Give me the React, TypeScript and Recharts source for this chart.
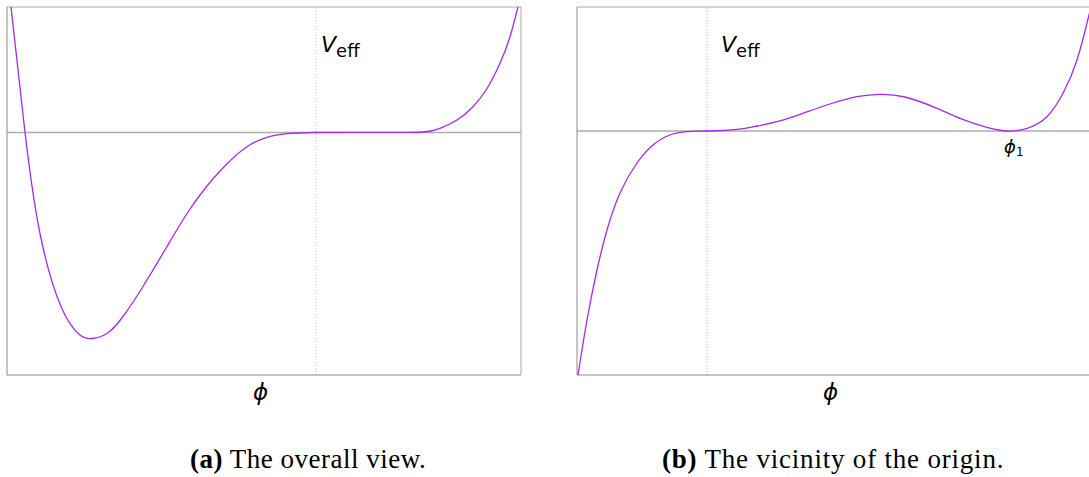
import { LineChart, Line, XAxis, YAxis, ReferenceLine } from "recharts";

// (a) overall view: field value and effective potential, origin at phi = 0
const phiA = [-3.05, -2.91, -2.76, -2.55, -2.36, -2.24, -2.09, -1.93, -1.73, -1.49, -1.29, -1.09, -0.89, -0.69, -0.49, -0.29, 0, 0.64, 1.07, 1.24, 1.41, 1.57, 1.71, 1.84, 1.94, 2.02];
const vA = [1.255, 0, -1.01, -1.74, -2.025, -2.06, -2.01, -1.84, -1.54, -1.14, -0.81, -0.535, -0.313, -0.142, -0.048, -0.012, 0, 0.001, 0.005, 0.042, 0.125, 0.258, 0.44, 0.692, 0.958, 1.258];

// (b) zoom near the origin, phi1 is the degenerate minimum
const phiB = [-1.29, -1.2, -1.1, -1.0, -0.87, -0.7, -0.54, -0.37, -0.2, 0, 0.3, 0.5, 0.7, 0.96, 1.23, 1.5, 1.73, 1.98, 2.3, 2.53, 2.8, 3.01, 3.2, 3.4, 3.56, 3.7, 3.82, 3.84];
const vB = [-2.44, -1.89, -1.39, -0.99, -0.62, -0.32, -0.14, -0.04, -0.007, 0, 0.017, 0.05, 0.093, 0.177, 0.27, 0.343, 0.367, 0.34, 0.227, 0.127, 0.037, 0, 0.027, 0.143, 0.377, 0.71, 1.16, 1.255];

const domainA = { x: [-3.09, 2.05], y: [-2.425, 1.255] };
const domainB = { x: [-1.3, 3.84], y: [-2.44, 1.24] };

const dataA = phiA.map((phi, i) => ({ phi, v: vA[i] }));
const dataB = phiB.map((phi, i) => ({ phi, v: vB[i] }));

const CURVE = "#a52ae8";
const FRAME = "#8c8c8c";
const MATH = "'DejaVu Sans', sans-serif";
const TEXT = "'Liberation Serif', 'DejaVu Serif', serif";

function Panel({ data, dom }: { data: { phi: number; v: number }[]; dom: { x: number[]; y: number[] } }) {
  const [x0, x1] = dom.x;
  const [y0, y1] = dom.y;
  return (
    <LineChart width={528} height={382} data={data} margin={{ top: 7, right: 7, bottom: 7, left: 7 }}>
      <XAxis dataKey="phi" type="number" domain={[x0, x1]} hide allowDataOverflow />
      <YAxis type="number" domain={[y0, y1]} hide allowDataOverflow />
      <ReferenceLine x={0} stroke="#bdbdbd" strokeDasharray="1 2" />
      <ReferenceLine y={0} stroke="#adadad" strokeWidth={1.5} />
      <ReferenceLine y={y1} stroke="#a8a8a8" />
      <ReferenceLine y={y0} stroke={FRAME} />
      <ReferenceLine x={x0} stroke={FRAME} />
      <ReferenceLine x={x1} stroke="#a8a8a8" />
      <Line type="natural" dataKey="v" stroke={CURVE} strokeWidth={1.3} dot={false} isAnimationActive={false} />
    </LineChart>
  );
}

function Veff({ left }: { left: number }) {
  return (
    <div style={{ position: "absolute", left, top: 34, fontFamily: MATH, fontSize: 22, color: "#000", lineHeight: 1 }}>
      <span style={{ fontStyle: "italic" }}>V</span>
      <span style={{ fontSize: 18, position: "relative", top: 5 }}>eff</span>
    </div>
  );
}

function Phi({ left }: { left: number }) {
  return (
    <div style={{ position: "absolute", left, top: 381, fontFamily: MATH, fontSize: 23, fontStyle: "italic", lineHeight: 1 }}>
      ϕ
    </div>
  );
}

export default function App() {
  return (
    <div style={{ position: "absolute", left: 0, top: 0, width: 1089, height: 477, overflow: "hidden", background: "#fff" }}>
      <div style={{ position: "absolute", left: 0, top: 0 }}>
        <Panel data={dataA} dom={domainA} />
      </div>
      <div style={{ position: "absolute", left: 570, top: 0 }}>
        <Panel data={dataB} dom={domainB} />
      </div>
      <Veff left={321} />
      <Veff left={721} />
      <Phi left={253} />
      <Phi left={823} />
      <div style={{ position: "absolute", left: 1004, top: 138, fontFamily: MATH, fontSize: 18, lineHeight: 1 }}>
        <span style={{ fontStyle: "italic" }}>ϕ</span>
        <span style={{ fontSize: 12, position: "relative", top: 3 }}>1</span>
      </div>
      <div style={{ position: "absolute", left: 190, top: 446, fontFamily: TEXT, fontSize: 27, letterSpacing: 0.5, lineHeight: 1, whiteSpace: "nowrap" }}>
        <b>(a)</b> The overall view.
      </div>
      <div style={{ position: "absolute", left: 662, top: 446, fontFamily: TEXT, fontSize: 27, letterSpacing: 0.8, lineHeight: 1, whiteSpace: "nowrap" }}>
        <b>(b)</b> The vicinity of the origin.
      </div>
    </div>
  );
}
